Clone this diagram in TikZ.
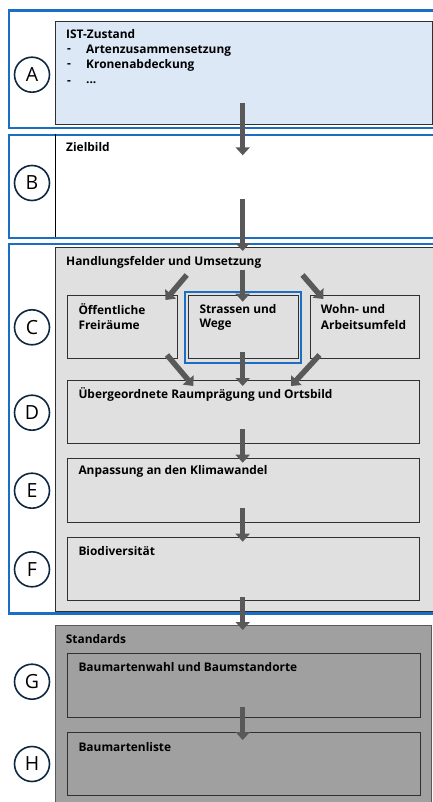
\documentclass[tikz,border=0pt]{standalone}
\usepackage{fontspec}
\setmainfont{Open Sans}
\usetikzlibrary{arrows.meta}
\definecolor{frameblue}{HTML}{1A6FC4}
\definecolor{lightblue}{HTML}{DCE8F5}
\definecolor{panelgray}{HTML}{E0E0E0}
\definecolor{stdgray}{HTML}{A0A0A0}
\definecolor{arrowgray}{HTML}{595959}
\definecolor{navy}{HTML}{0E2841}
\definecolor{boxline}{HTML}{303030}
\tikzset{
  frame/.style={draw=frameblue, line width=2.3pt},
  panel/.style={draw=boxline, line width=0.9pt, anchor=north west, inner sep=0pt},
  subbox/.style={draw=boxline, line width=1pt, anchor=north west, inner sep=0pt},
  lbl/.style={anchor=west, inner sep=0pt, font=\fontsize{11.9}{14}\selectfont\bfseries, text=black},
  circ/.style={circle, draw=navy, line width=1.6pt, minimum size=35pt, inner sep=0pt, font=\fontsize{19.5}{20}\selectfont, text=black},
  flow/.style={draw=arrowgray, line width=5.5pt, -{Triangle[width=14pt,length=8pt]}, arrowgray},
}
\begin{document}
\begin{tikzpicture}[x=1pt,y=-1pt]
\useasboundingbox (0,0) rectangle (432,802);
% frame A
\node[frame, anchor=north west, minimum width=440pt, minimum height=117.5pt, inner sep=0pt] (frA) at (7.5,9.5) {};
\node[panel, fill=lightblue, minimum width=376.5pt, minimum height=103.6pt] (ist) at (55,20.7) {};
\node[circ] (cA) at (32,74.7) {A};
\node[lbl] (tIst) at (66,33.7) {IST-Zustand};
\node[lbl] (d1) at (67,50.7) {-};
\node[lbl] (t1) at (86,50.7) {Artenzusammensetzung};
\node[lbl] (d2) at (67,65.3) {-};
\node[lbl] (t2) at (86,65.3) {Kronenabdeckung};
\node[lbl] (d3) at (67,83) {-};
\node[lbl] (t3) at (86,83) {...};
% frame B
\node[frame, anchor=north west, minimum width=440pt, minimum height=102.7pt, inner sep=0pt] (frB) at (7.5,134) {};
\draw[black, line width=0.8pt] (55,134) coordinate (bTop) -- (55,236.7) coordinate (bBot);
\node[circ] (cB) at (32,183) {B};
\node[lbl] (tZiel) at (66,146.7) {Zielbild};
% frame C
\node[panel, fill=panelgray, draw=boxline, minimum width=400pt, minimum height=364pt] (hand) at (55,247.3) {};
\node[frame, anchor=north west, minimum width=440pt, minimum height=369.6pt, inner sep=0pt] (frC) at (7.5,242.7) {};
\node[lbl] (tHand) at (66,262.3) {Handlungsfelder und Umsetzung};
\node[subbox, minimum width=109.4pt, minimum height=63.3pt] (oeff) at (67.3,295) {};
\node[subbox, minimum width=109.4pt, minimum height=63.3pt] (str) at (188.3,295) {};
\node[subbox, minimum width=109.4pt, minimum height=63.3pt] (wohn) at (310,295) {};
\draw[frameblue, line width=2pt] (185,291.7) rectangle (300.5,362.7);
\node[lbl] (tOeff1) at (78.3,309) {Öffentliche};
\node[lbl] (tOeff2) at (78.3,325) {Freiräume};
\node[lbl] (tStr1) at (199.3,309) {Strassen und};
\node[lbl] (tStr2) at (199.3,325) {Wege};
\node[lbl] (tWohn1) at (320.7,309) {Wohn- und};
\node[lbl] (tWohn2) at (320.7,325) {Arbeitsumfeld};
\node[subbox, minimum width=352pt, minimum height=63.3pt] (uebr) at (67.3,380) {};
\node[lbl] (tUebr) at (78.3,394) {Übergeordnete Raumprägung und Ortsbild};
\node[subbox, minimum width=352pt, minimum height=63.4pt] (klima) at (67.3,458.3) {};
\node[lbl] (tKlima) at (78.3,471.7) {Anpassung an den Klimawandel};
\node[subbox, minimum width=352pt, minimum height=63.3pt] (bio) at (67.3,536.7) {};
\node[lbl] (tBio) at (78.3,550.7) {Biodiversität};
\node[circ] (cC) at (32,327.3) {C};
\node[circ] (cD) at (32,412.7) {D};
\node[circ] (cE) at (32,490.7) {E};
\node[circ] (cF) at (32,569.3) {F};
% standards
\node[panel, fill=stdgray, draw=boxline!80, minimum width=376pt, minimum height=190pt] (std) at (55,625) {};
\node[lbl] (tStd) at (65.7,639) {Standards};
\node[subbox, minimum width=352.4pt, minimum height=63.4pt] (wahl) at (67.3,653.3) {};
\node[lbl] (tWahl) at (78.3,666.7) {Baumartenwahl und Baumstandorte};
\node[subbox, minimum width=352.4pt, minimum height=63.3pt] (liste) at (67.3,731.7) {};
\node[lbl] (tListe) at (78.3,746.7) {Baumartenliste};
\node[circ] (cG) at (32,681.7) {G};
\node[circ] (cH) at (32,764) {H};
% arrow coordinates
\coordinate (a1s) at (242.7,102.7); \coordinate (a1e) at (242.7,155.3);
\coordinate (a2s) at (242.7,199.3); \coordinate (a2e) at (242.7,251);
\coordinate (ctls) at (186.7,275); \coordinate (ctle) at (165.5,300);
\coordinate (ctcs) at (242.7,269.5); \coordinate (ctce) at (242.7,301.7);
\coordinate (ctrs) at (302.5,275); \coordinate (ctre) at (323.3,299);
\coordinate (clls) at (167,355); \coordinate (clle) at (193.3,386);
\coordinate (clcs) at (242.7,351.7); \coordinate (clce) at (242.7,386);
\coordinate (clrs) at (319.5,355); \coordinate (clre) at (291,386);
\coordinate (des) at (242.7,429.3); \coordinate (dee) at (242.7,462.7);
\coordinate (efs) at (242.7,508.3); \coordinate (efe) at (242.7,541.7);
\coordinate (fss) at (242.7,596.7); \coordinate (fse) at (242.7,630);
\coordinate (ghs) at (242.7,706.7); \coordinate (ghe) at (242.7,740);
\foreach \s/\e in {a1s/a1e,a2s/a2e,ctls/ctle,ctcs/ctce,ctrs/ctre,clls/clle,clcs/clce,clrs/clre,des/dee,efs/efe,fss/fse,ghs/ghe}
  \draw[flow] (\s) -- (\e);
\end{tikzpicture}
\end{document}
